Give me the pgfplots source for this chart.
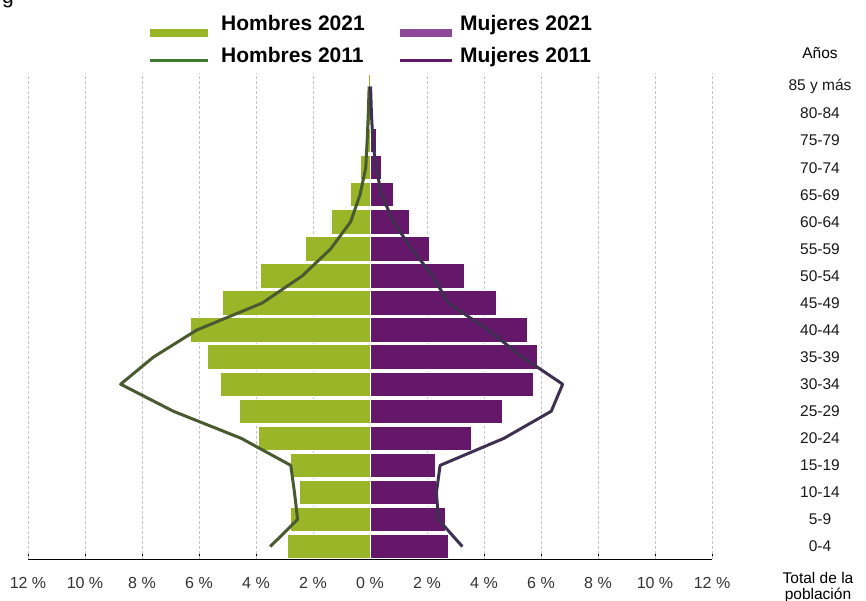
\documentclass[border=0pt]{standalone}
\usepackage{pgfplots}
\pgfplotsset{compat=1.18}
\usepackage{fontspec}
\setmainfont{Liberation Sans}
\definecolor{hgreen}{HTML}{9BB528}
\definecolor{mpurple}{HTML}{65186A}
\definecolor{mleg}{HTML}{8E4A98}
\definecolor{hline}{HTML}{4A5A30}
\definecolor{mline}{HTML}{3D3050}
\definecolor{hlegline}{HTML}{3E7B30}
\definecolor{mlegline}{HTML}{5E1C6A}
\definecolor{gridc}{HTML}{C4C4C4}
\definecolor{ticktext}{HTML}{333333}

\pgfplotstableread{
k  h21   m21   h11   m11
0  -2.91 2.74  -3.50 3.24
1  -2.79 2.66  -2.54 2.40
2  -2.48 2.32  -2.65 2.33
3  -2.79 2.28  -2.78 2.46
4  -3.91 3.56  -4.52 4.70
5  -4.57 4.66  -6.90 6.36
6  -5.25 5.72  -8.75 6.76
7  -5.70 5.88  -7.60 5.35
8  -6.31 5.54  -6.08 4.15
9  -5.17 4.45  -3.78 2.75
10 -3.84 3.32  -2.38 2.20
11 -2.27 2.08  -1.38 1.46
12 -1.37 1.38  -0.68 0.82
13 -0.67 0.83  -0.35 0.41
14 -0.32 0.39  -0.15 0.21
15 -0.15 0.21  -0.10 0.10
16 -0.08 0.10  -0.06 0.05
17 -0.04 0.05  -0.03 0.02
}\datatable

\begin{document}
\begin{tikzpicture}[x=1pt,y=1pt]
\useasboundingbox (0,0) rectangle (866,601);
\begin{axis}[
  at={(28pt,42pt)}, anchor=south west,
  scale only axis, width=684pt, height=486pt,
  xmin=-12, xmax=12, ymin=-0.46, ymax=17.5,
  axis x line*=bottom, axis y line*=right,
  y axis line style={draw=none},
  x axis line style={black, line width=0.8pt, -},
  xtick={-12,-10,-8,-6,-4,-2,0,2,4,6,8,10,12},
  xticklabels={12 \%,10 \%,8 \%,6 \%,4 \%,2 \%,0 \%,2 \%,4 \%,6 \%,8 \%,10 \%,12 \%},
  tick align=inside,
  major tick length=5pt,
  xtick style={black, line width=0.6pt},
  xticklabel style={anchor=base, yshift=-30pt, font=\fontsize{16}{19}\selectfont, text=ticktext},
  ytick={0,...,17},
  yticklabels={0-4,5-9,10-14,15-19,20-24,25-29,30-34,35-39,40-44,45-49,50-54,55-59,60-64,65-69,70-74,75-79,80-84,85 y más},
  ytick style={draw=none},
  yticklabel style={anchor=center, xshift=108pt, font=\fontsize{15.5}{18}\selectfont, text=black!90},
  extra x ticks={-12,-10,-8,-6,-4,-2,2,4,6,8,10,12},
  extra x tick labels={},
  extra x tick style={grid=major, major tick length=0pt},
  major grid style={gridc, line width=0.6pt, dash pattern=on 3pt off 2pt},
  clip=false,
]
\addplot[xbar, bar shift=0pt, bar width=0.9, fill=hgreen, draw=white, line width=0.9pt] table[x=h21, y=k] {\datatable};
\addplot[xbar, bar shift=0pt, bar width=0.9, fill=mpurple, draw=white, line width=0.9pt] table[x=m21, y=k] {\datatable};
\addplot[hline, line width=3pt, line join=round, mark=none] table[x=h11, y=k] {\datatable};
\addplot[mline, line width=3pt, line join=round, mark=none] table[x=m11, y=k] {\datatable};
\end{axis}

% legend
\fill[hgreen] (150,564) rectangle (208,572);
\fill[mleg] (400,564) rectangle (452,572);
\draw[hlegline, line width=3pt] (150,540) -- (208,540);
\draw[mlegline, line width=3pt] (400,540) -- (452,540);
\node[anchor=base west, inner sep=0pt, font=\bfseries\fontsize{21}{25}\selectfont] at (221,570) {Hombres 2021};
\node[anchor=base west, inner sep=0pt, font=\bfseries\fontsize{21}{25}\selectfont] at (221,538) {Hombres 2011};
\node[anchor=base west, inner sep=0pt, font=\bfseries\fontsize{21}{25}\selectfont] at (460,570) {Mujeres 2021};
\node[anchor=base west, inner sep=0pt, font=\bfseries\fontsize{21}{25}\selectfont] at (460,538) {Mujeres 2011};
\node[anchor=center, inner sep=0pt, font=\fontsize{15.5}{18}\selectfont] at (820,548) {Años};
\node[anchor=center, inner sep=0pt, font=\fontsize{15.5}{18}\selectfont] at (818,23) {Total de la};
\node[anchor=center, inner sep=0pt, font=\fontsize{15.5}{18}\selectfont] at (818,6) {población};
\node[anchor=base west, inner sep=0pt, font=\fontsize{21}{25}\selectfont] at (2,597) {g};
\end{tikzpicture}
\end{document}
